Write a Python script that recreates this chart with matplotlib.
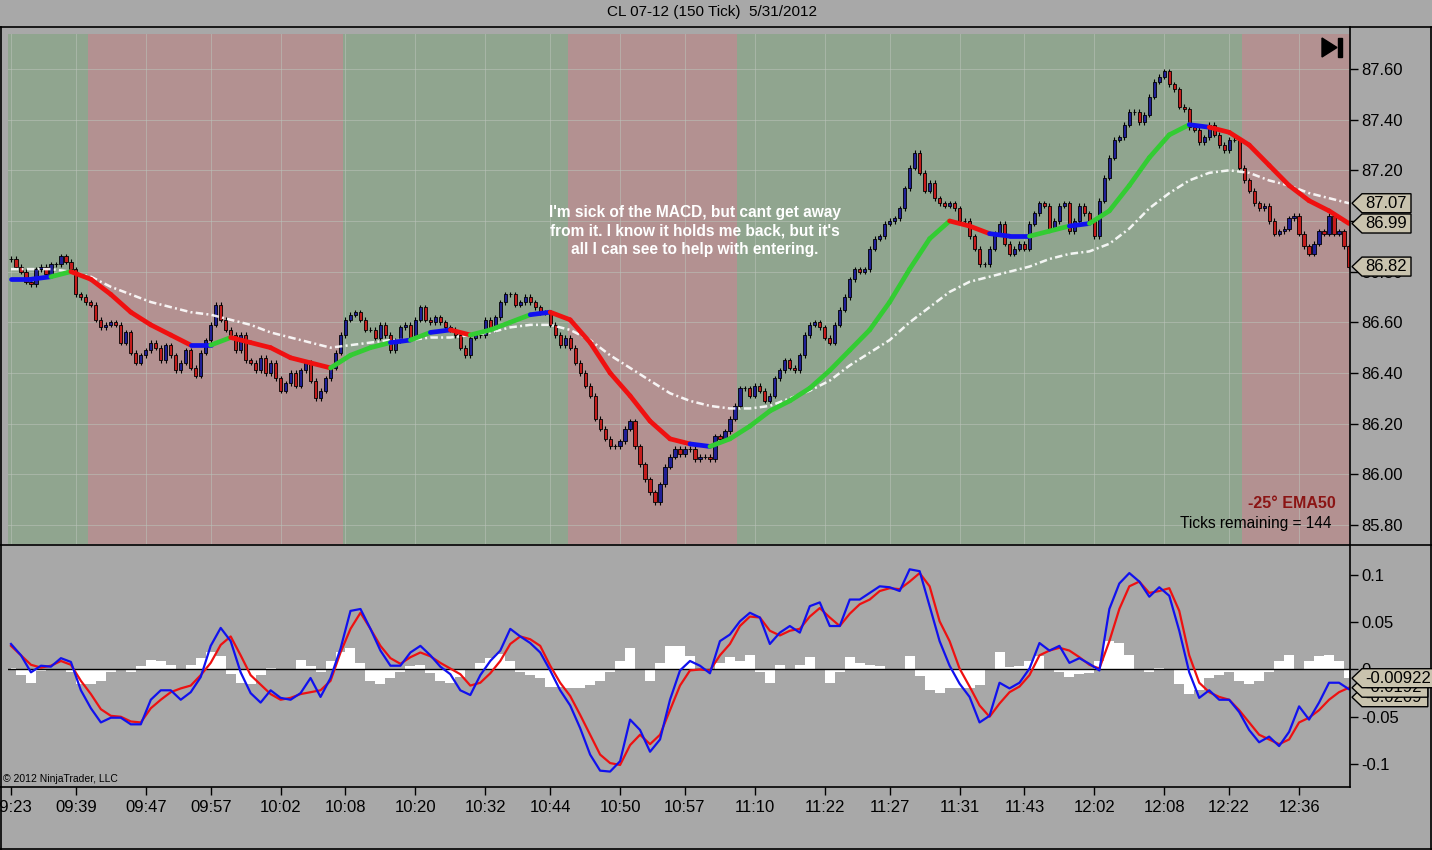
import numpy as np
import matplotlib
matplotlib.use("Agg")
import matplotlib.pyplot as plt
from matplotlib.collections import LineCollection
from matplotlib.patches import Polygon, Rectangle
from matplotlib.lines import Line2D

# ---- data --------------------------------------------------------------
TITLE = "CL 07-12 (150 Tick)  5/31/2012"

# closing price of each 150-tick bar
CLOSE = np.array([
    86.85, 86.82, 86.80, 86.76, 86.75, 86.81, 86.82, 86.79, 86.83, 86.83,
    86.86, 86.84, 86.81, 86.71, 86.70, 86.68, 86.67, 86.61, 86.58, 86.59,
    86.60, 86.59, 86.52, 86.56, 86.48, 86.44, 86.47, 86.49, 86.52, 86.50,
    86.45, 86.51, 86.47, 86.41, 86.44, 86.49, 86.42, 86.39, 86.48, 86.53,
    86.59, 86.67, 86.61, 86.57, 86.55, 86.49, 86.55, 86.45, 86.44, 86.41,
    86.46, 86.40, 86.44, 86.38, 86.33, 86.36, 86.40, 86.35, 86.41, 86.44,
    86.37, 86.30, 86.33, 86.38, 86.42, 86.48, 86.55, 86.61, 86.63, 86.64,
    86.61, 86.57, 86.57, 86.54, 86.59, 86.55, 86.49, 86.53, 86.58, 86.59,
    86.54, 86.61, 86.66, 86.61, 86.60, 86.62, 86.60, 86.58, 86.57, 86.55,
    86.50, 86.47, 86.54, 86.55, 86.55, 86.61, 86.57, 86.62, 86.68, 86.71,
    86.71, 86.67, 86.68, 86.70, 86.68, 86.66, 86.64, 86.64, 86.59, 86.55,
    86.51, 86.54, 86.50, 86.44, 86.40, 86.35, 86.31, 86.22, 86.18, 86.14,
    86.11, 86.11, 86.13, 86.18, 86.21, 86.11, 86.04, 85.98, 85.93, 85.89,
    85.96, 86.03, 86.07, 86.10, 86.08, 86.10, 86.10, 86.06, 86.07, 86.07,
    86.06, 86.15, 86.14, 86.17, 86.22, 86.27, 86.34, 86.34, 86.31, 86.35,
    86.33, 86.29, 86.31, 86.38, 86.41, 86.45, 86.42, 86.41, 86.47, 86.55,
    86.59, 86.60, 86.58, 86.54, 86.52, 86.59, 86.65, 86.70, 86.77, 86.81,
    86.80, 86.81, 86.89, 86.93, 86.94, 86.99, 87.00, 87.01, 87.05, 87.13,
    87.21, 87.27, 87.19, 87.12, 87.15, 87.09, 87.07, 87.06, 87.07, 87.05,
    87.00, 87.00, 86.94, 86.89, 86.83, 86.83, 86.89, 86.95, 86.99, 86.91,
    86.87, 86.89, 86.91, 86.89, 86.99, 87.03, 87.07, 87.06, 86.97, 87.00,
    87.06, 87.07, 86.96, 87.00, 87.06, 87.03, 87.00, 86.94, 87.08, 87.17,
    87.25, 87.32, 87.33, 87.38, 87.43, 87.43, 87.39, 87.42, 87.49, 87.55,
    87.57, 87.59, 87.54, 87.52, 87.45, 87.44, 87.37, 87.36, 87.31, 87.33,
    87.38, 87.34, 87.30, 87.28, 87.32, 87.32, 87.21, 87.16, 87.12, 87.07,
    87.05, 87.06, 87.00, 86.95, 86.96, 86.97, 87.01, 87.02, 86.95, 86.90,
    86.87, 86.91, 86.96, 86.95, 87.02, 86.95, 86.96, 86.90, 86.82,
])

# EMA50 (thick, slope coloured) and slow EMA (white dash-dot), every 4th bar
EMA50 = np.array([
    86.77, 86.77, 86.78, 86.80, 86.77, 86.71, 86.64, 86.59, 86.55, 86.51,
    86.51, 86.54, 86.52, 86.50, 86.46, 86.44, 86.42, 86.47, 86.50, 86.52,
    86.53, 86.56, 86.57, 86.55, 86.57, 86.60, 86.63, 86.64, 86.61, 86.52,
    86.40, 86.31, 86.21, 86.14, 86.12, 86.11, 86.14, 86.19, 86.25, 86.29,
    86.34, 86.41, 86.49, 86.57, 86.68, 86.81, 86.93, 87.00, 86.98, 86.95,
    86.94, 86.94, 86.96, 86.98, 86.99, 87.04, 87.14, 87.25, 87.34, 87.38,
    87.37, 87.35, 87.30, 87.22, 87.14, 87.08, 87.04, 86.99,
])
EMA_SLOW = np.array([
    86.81, 86.81, 86.81, 86.80, 86.78, 86.74, 86.71, 86.68, 86.66, 86.64,
    86.63, 86.61, 86.59, 86.56, 86.54, 86.52, 86.50, 86.51, 86.52, 86.53,
    86.53, 86.54, 86.54, 86.55, 86.56, 86.58, 86.59, 86.59, 86.57, 86.53,
    86.47, 86.42, 86.37, 86.32, 86.29, 86.27, 86.26, 86.26, 86.27, 86.30,
    86.33, 86.37, 86.43, 86.48, 86.53, 86.60, 86.66, 86.72, 86.76, 86.78,
    86.80, 86.82, 86.85, 86.87, 86.88, 86.91, 86.97, 87.05, 87.11, 87.16,
    87.19, 87.20, 87.19, 87.16, 87.14, 87.11, 87.09, 87.07,
])

# MACD panel, every 2nd bar
MACD = np.array([
    0.027, 0.015, -0.003, 0.004, 0.003, 0.012, 0.008, -0.022, -0.041, -0.056,
    -0.051, -0.051, -0.058, -0.058, -0.032, -0.022, -0.022, -0.032, -0.024, -0.008,
    0.025, 0.044, 0.030, -0.003, -0.025, -0.035, -0.022, -0.030, -0.032, -0.025,
    -0.009, -0.029, -0.009, 0.022, 0.062, 0.064, 0.043, 0.020, 0.004, 0.004,
    0.018, 0.025, 0.015, 0.003, -0.005, -0.022, -0.027, -0.006, 0.009, 0.020,
    0.043, 0.035, 0.028, 0.018, -0.001, -0.022, -0.038, -0.062, -0.090, -0.107,
    -0.108, -0.097, -0.053, -0.064, -0.087, -0.074, -0.032, -0.001, 0.009, 0.004,
    -0.004, 0.030, 0.037, 0.051, 0.060, 0.055, 0.027, 0.039, 0.046, 0.039,
    0.067, 0.071, 0.046, 0.046, 0.074, 0.074, 0.081, 0.088, 0.087, 0.083,
    0.106, 0.104, 0.067, 0.030, 0.004, -0.015, -0.029, -0.056, -0.049, -0.014,
    -0.020, -0.014, 0.001, 0.028, 0.020, 0.025, 0.007, 0.012, 0.006, -0.001,
    0.064, 0.091, 0.102, 0.093, 0.077, 0.087, 0.078, 0.041, -0.003, -0.030,
    -0.022, -0.032, -0.032, -0.045, -0.064, -0.077, -0.071, -0.081, -0.066, -0.039,
    -0.053, -0.035, -0.014, -0.014, -0.0209,
])
MACD_AVG = np.array([
    0.025, 0.015, 0.005, 0.002, 0.004, 0.009, 0.005, -0.012, -0.026, -0.042,
    -0.049, -0.050, -0.055, -0.056, -0.041, -0.032, -0.024, -0.020, -0.017, -0.006,
    0.007, 0.026, 0.035, 0.015, -0.006, -0.016, -0.026, -0.032, -0.030, -0.026,
    -0.024, -0.022, -0.012, 0.018, 0.043, 0.060, 0.043, 0.025, 0.012, 0.006,
    0.013, 0.018, 0.014, 0.007, 0.001, -0.005, -0.017, -0.014, -0.004, 0.009,
    0.027, 0.035, 0.032, 0.025, 0.004, -0.014, -0.028, -0.048, -0.069, -0.090,
    -0.099, -0.101, -0.080, -0.069, -0.079, -0.069, -0.043, -0.017, -0.001, 0.000,
    -0.001, 0.015, 0.027, 0.046, 0.056, 0.055, 0.041, 0.036, 0.041, 0.043,
    0.056, 0.065, 0.055, 0.046, 0.059, 0.069, 0.074, 0.083, 0.086, 0.085,
    0.093, 0.102, 0.088, 0.051, 0.030, 0.001, -0.018, -0.038, -0.050, -0.036,
    -0.024, -0.018, -0.006, 0.015, 0.020, 0.023, 0.020, 0.013, 0.005, 0.001,
    0.030, 0.064, 0.088, 0.093, 0.081, 0.083, 0.086, 0.062, 0.015, -0.014,
    -0.024, -0.029, -0.032, -0.043, -0.056, -0.069, -0.074, -0.079, -0.074, -0.056,
    -0.051, -0.043, -0.032, -0.024, -0.0192,
])
MACD_DIFF = np.array([
    0.002, -0.006, -0.014, -0.002, 0.001, 0.001, -0.003, -0.015, -0.015, -0.012,
    -0.003, 0.001, -0.003, 0.004, 0.010, 0.009, 0.005, 0.001, 0.005, 0.012,
    0.018, 0.014, -0.005, -0.014, -0.015, -0.006, 0.002, -0.001, 0.000, 0.010,
    0.004, -0.003, 0.009, 0.018, 0.023, 0.007, -0.012, -0.015, -0.009, -0.003,
    0.004, 0.005, -0.004, -0.012, -0.014, -0.008, 0.001, 0.007, 0.012, 0.016,
    0.009, -0.003, -0.006, -0.009, -0.018, -0.019, -0.020, -0.020, -0.016, -0.012,
    -0.003, 0.009, 0.023, 0.001, -0.012, 0.007, 0.025, 0.025, 0.014, -0.001,
    0.001, 0.007, 0.013, 0.009, 0.015, -0.003, -0.014, 0.005, -0.001, 0.005,
    0.013, -0.001, -0.014, -0.003, 0.013, 0.007, 0.005, 0.004, -0.001, 0.001,
    0.014, -0.007, -0.022, -0.025, -0.020, -0.020, -0.020, -0.016, 0.001, 0.018,
    0.003, 0.004, 0.009, 0.014, -0.001, -0.003, -0.008, -0.005, -0.004, 0.009,
    0.030, 0.028, 0.015, 0.001, -0.003, 0.002, -0.001, -0.015, -0.026, -0.022,
    -0.009, -0.006, -0.003, -0.012, -0.015, -0.012, -0.003, 0.009, 0.015, 0.001,
    0.009, 0.014, 0.015, 0.009, -0.00922,
])

# trend background regions: first bar of each region and its state
REGION_START = [0, 16, 67, 112, 146, 247]
REGION_UP = [True, False, True, False, True, False]

TIME_LABELS = ["09:23", "09:39", "09:47", "09:57", "10:02", "10:08", "10:20",
               "10:32", "10:44", "10:50", "10:57", "11:10", "11:22", "11:27",
               "11:31", "11:43", "12:02", "12:08", "12:22", "12:36"]
TIME_BARS = [0, 13, 27, 40, 54, 67, 81, 95, 108, 122, 135, 149, 163, 176,
             190, 203, 217, 231, 244, 258]

PRICE_TICKS = [85.80, 86.00, 86.20, 86.40, 86.60, 86.80, 87.00, 87.20, 87.40, 87.60]
MACD_TICKS = [-0.1, -0.05, 0, 0.05, 0.1]
MACD_TICK_LABELS = ["-0.1", "-0.05", "0", "0.05", "0.1"]

NOTE = ("I'm sick of the MACD, but cant get away\n"
        "from it. I know it holds me back, but it's\n"
        "all I can see to help with entering.")
EMA_ANGLE = -25
TICKS_REMAINING = 144
TICK = 0.01

# ---- style ---------------------------------------------------------------
BG = "#a8a8a8"
GREEN_BG = "#90a58f"
RED_BG = "#b39191"
UP_COL = "#1f1f96"
DOWN_COL = "#c41c1c"
FLAG_COL = "#c9c3ae"
plt.rcParams["font.family"] = ["Liberation Sans", "DejaVu Sans"]

W, H = 1432, 850
fig = plt.figure(figsize=(W / 100, H / 100), dpi=100, facecolor=BG)


def fx(px):
    return px / W


def fy(py):
    return 1 - py / H


ax1 = fig.add_axes([fx(8), fy(544), (1350 - 8) / W, (544 - 34) / H])
ax2 = fig.add_axes([fx(8), fy(787), (1350 - 8) / W, (787 - 545) / H])

n = len(CLOSE)
bars = np.arange(n)
xlim = (-0.6, n - 0.8)

for ax in (ax1, ax2):
    ax.set_facecolor(BG)
    ax.set_xlim(*xlim)
    for s in ax.spines.values():
        s.set_visible(False)
    ax.yaxis.tick_right()
    ax.tick_params(axis="y", length=6, width=1, color="black", pad=2,
                   labelsize=12, labelcolor="black")

# ---- price panel ---------------------------------------------------------
ax1.set_ylim(85.725, 87.738)
bounds = [xlim[0]] + [s - 0.5 for s in REGION_START[1:]] + [xlim[1]]
for i, is_up in enumerate(REGION_UP):
    ax1.axvspan(bounds[i], bounds[i + 1], color=GREEN_BG if is_up else RED_BG,
                lw=0, zorder=0)

ax1.set_xticks(TIME_BARS)
ax1.tick_params(axis="x", length=0, labelbottom=False)
ax1.set_yticks(PRICE_TICKS, [f"{p:.2f}" for p in PRICE_TICKS])
ax1.set_axisbelow(True)
ax1.grid(True, color="#bcc4bc", alpha=0.55, lw=0.7)

opens = np.r_[CLOSE[0], CLOSE[:-1]]
lo = np.minimum(opens, CLOSE)
hi = np.maximum(opens, CLOSE)
ax1.vlines(bars, lo - TICK, hi + TICK, color="black", lw=0.8, zorder=3)
ax1.bar(bars, CLOSE - opens, bottom=opens, width=0.64,
        color=np.where(CLOSE >= opens, UP_COL, DOWN_COL),
        edgecolor="black", linewidth=0.6, zorder=4)

xe = np.linspace(0, n - 1, len(EMA50))
segs = np.stack([np.column_stack([xe[:-1], EMA50[:-1]]),
                 np.column_stack([xe[1:], EMA50[1:]])], axis=1)
slope = np.diff(EMA50)
seg_cols = np.where(slope < -0.015, "#f01010",
                    np.where(slope > 0.015, "#33cc33", "#1010f0"))
ax1.add_collection(LineCollection(segs, colors=seg_cols, linewidths=3.4,
                                  capstyle="round", zorder=6))
ax1.plot(xe, EMA_SLOW, color="white", lw=1.8, dashes=(3.0, 1.3, 0.8, 1.3),
         alpha=0.9, zorder=5)

ax1.text(0.512, 0.614, NOTE, transform=ax1.transAxes, ha="center", va="center",
         color="white", fontsize=11.2, fontweight="bold", linespacing=1.3,
         zorder=8)
ax1.text(0.9895, 0.08, f"{EMA_ANGLE}\u00b0 EMA50", transform=ax1.transAxes,
         ha="right", va="center", color="#8b1414", fontsize=11.5,
         fontweight="bold", zorder=8)
ax1.text(0.986, 0.04, f"Ticks remaining = {TICKS_REMAINING}",
         transform=ax1.transAxes, ha="right", va="center", color="black",
         fontsize=11.2, zorder=8)

# ---- MACD panel ----------------------------------------------------------
ax2.set_ylim(-0.1243, 0.1317)
ax2.set_yticks(MACD_TICKS, MACD_TICK_LABELS)
xm = np.linspace(0, n - 1, len(MACD))
ax2.fill_between(xm, 0, MACD_DIFF, step="mid", color="white", lw=0, zorder=2)
ax2.axhline(0, color="black", lw=1.0, zorder=3)
ax2.plot(xm, MACD_AVG, color="#ee1111", lw=1.6, zorder=4)
ax2.plot(xm, MACD, color="#1111ee", lw=1.6, zorder=5)
ax2.set_xticks(TIME_BARS, TIME_LABELS)
ax2.tick_params(axis="x", length=6, width=1, color="black", pad=3,
                labelsize=12, labelcolor="black")

# ---- frame and decorations ----------------------------------------------
def hline(y, x0, x1):
    fig.add_artist(Line2D([fx(x0), fx(x1)], [fy(y), fy(y)], color="black", lw=1.2))


def vline(x, y0, y1):
    fig.add_artist(Line2D([fx(x), fx(x)], [fy(y0), fy(y1)], color="black", lw=1.2))


hline(27, 0, W)
hline(544.5, 0, W)
hline(787, 0, 1350)
hline(849, 0, W)
vline(1, 27, H)
vline(1350, 27, 787)
vline(1431, 27, H)

fig.text(fx(712), fy(12), TITLE, ha="center", va="center", fontsize=11,
         color="black")
fig.text(fx(3), fy(779), "\u00a9 2012 NinjaTrader, LLC", ha="left",
         va="center", fontsize=7.5, color="black")

fig.add_artist(Polygon([(fx(1322), fy(38)), (fx(1337), fy(47.5)),
                        (fx(1322), fy(57))], closed=True, color="black"))
fig.add_artist(Rectangle((fx(1338), fy(57)), 4 / W, 19 / H, color="black"))


def flag(ax, value, center_py, z):
    text = f"{value:.3g}" if abs(value) < 1 else f"{value:.2f}"
    right = 1363 + 6 + 8.4 * len(text)
    half = 9.5
    pts = [(1352, center_py), (1362, center_py - half), (right, center_py - half),
           (right, center_py + half), (1362, center_py + half)]
    fig.add_artist(Polygon([(fx(px), fy(py)) for px, py in pts], closed=True,
                           facecolor=FLAG_COL, edgecolor="black", lw=1.0,
                           zorder=z))
    fig.text(fx(1365), fy(center_py), text, ha="left", va="center",
             fontsize=12, color="black", zorder=z + 0.5)


def value_py(ax, value):
    return H - ax.transData.transform((0, value))[1]


# price flags
for v, z in ((EMA_SLOW[-1], 10), (EMA50[-1], 11), (CLOSE[-1], 12)):
    flag(ax1, v, value_py(ax1, v), z)

# MACD flags, stacked so they do not sit on top of each other
order = sorted([MACD_DIFF[-1], MACD_AVG[-1], MACD[-1]], reverse=True)
centers = []
for v in order:
    c = value_py(ax2, v)
    if centers:
        c = max(c, centers[-1] + 9.5)
    centers.append(c)
for i in reversed(range(len(order))):
    flag(ax2, order[i], centers[i], 20 - i)

fig.savefig("out.png", dpi=100, facecolor=BG)
